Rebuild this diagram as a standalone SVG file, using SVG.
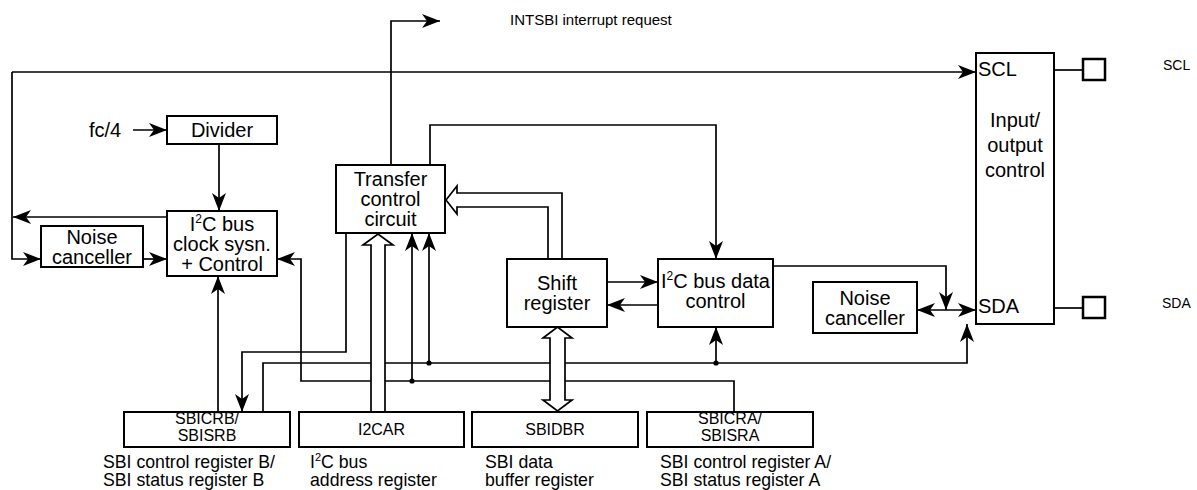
<svg xmlns="http://www.w3.org/2000/svg" width="1197" height="490" viewBox="0 0 1197 490">
<style>
.ln{fill:none;stroke:#000;stroke-width:1.7}
.ar{marker-end:url(#ah)}
.hol{fill:#fff;stroke:#000;stroke-width:1.7;stroke-linejoin:miter}
.bx{fill:#fff;stroke:#000;stroke-width:2}
.pad{fill:#fff;stroke:#000;stroke-width:2.5}
.t{font-family:"Liberation Sans",Arial,sans-serif;font-size:20px;fill:#000;text-anchor:middle}
.tl{font-family:"Liberation Sans",Arial,sans-serif;font-size:20px;fill:#000}
.rb{font-family:"Liberation Sans",Arial,sans-serif;font-size:16px;fill:#000;text-anchor:middle}
.cap{font-family:"Liberation Sans",Arial,sans-serif;font-size:17.7px;fill:#000}
.sm{font-family:"Liberation Sans",Arial,sans-serif;font-size:14px;fill:#000}
.dot{fill:#000}
</style>
<defs>
<marker id="ah" markerUnits="userSpaceOnUse" markerWidth="19" markerHeight="15" refX="18" refY="7" orient="auto-start-reverse">
<path d="M0,0 L18,7 L0,14 L5,7 z" fill="#000"/>
</marker>
</defs>
<rect width="1197" height="490" fill="#fff"/>
<g id="connectors">
<path class="ln ar" d="M133,130 H167"/>
<path class="ln ar" d="M219,144 V211"/>
<path class="ln ar" d="M167,217 H13"/>
<path class="ln ar" d="M12,72 V259 H41"/>
<path class="ln ar" d="M12,72 H976"/>
<path class="ln ar" d="M143,259 H167"/>
<path class="ln ar" d="M734,412 V381 H301 V259 H277"/>
<path class="ln ar" d="M218,412 V276"/>
<path class="ln ar" d="M346,233 V352 H242 V412"/>
<path class="ln ar" d="M263,412 V363 H967 V324"/>
<path class="ln ar" d="M429,363 V233"/>
<path class="ln ar" d="M412,381 V233"/>
<path class="ln ar" d="M716,363 V327"/>
<path class="ln ar" d="M391,165 V21 H440"/>
<path class="ln ar" d="M430,165 V125 H716 V259"/>
<path class="ln ar" d="M607,282 H658"/>
<path class="ln ar" d="M658,305 H607"/>
<path class="ln ar" d="M773,266 H946 V310"/>
<path class="ln ar" d="M917,310 H976" marker-start="url(#ah)"/>
<path class="ln" d="M1054,70 H1083"/>
<path class="ln" d="M1054,308 H1083"/>
<polygon class="hol" points="371,412 371,245 363,245 378,234 393,245 385,245 385,412"/>
<polygon class="hol" points="550,338 543,338 557.5,327 572,338 565,338 565,400 572,400 557.5,411 543,400 550,400"/>
<polygon class="hol" points="446,200 457,186 457,193 562,193 562,259 548,259 548,207 457,207 457,214"/>
<circle class="dot" cx="429" cy="363" r="2.6"/>
<circle class="dot" cx="412" cy="381" r="2.6"/>
<circle class="dot" cx="716" cy="363" r="2.6"/>
</g>
<g id="fc4"><text class="tl" x="89" y="137">fc/4</text></g>
<g id="intsbi"><text class="rb" style="text-anchor:start;font-size:15px" x="510" y="25">INTSBI interrupt request</text></g>
<g id="divider"><rect class="bx" x="167" y="116" width="110" height="28"/><text class="t" x="222" y="137">Divider</text></g>
<g id="clock"><rect class="bx" x="167" y="211" width="110" height="65"/>
<text class="t" x="222" y="231">I<tspan font-size="12" dy="-8">2</tspan><tspan dy="8">C bus</tspan></text>
<text class="t" x="222" y="251">clock sysn.</text>
<text class="t" x="222" y="271">+ Control</text></g>
<g id="noise-left"><rect class="bx" x="41" y="226" width="102" height="41"/>
<text class="t" x="92" y="244">Noise</text><text class="t" x="92" y="264">canceller</text></g>
<g id="transfer"><rect class="bx" x="336" y="165" width="109" height="68"/>
<text class="t" x="390.5" y="186">Transfer</text><text class="t" x="390.5" y="206">control</text><text class="t" x="390.5" y="226">circuit</text></g>
<g id="shift"><rect class="bx" x="507" y="259" width="100" height="68"/>
<text class="t" x="557" y="289.5">Shift</text><text class="t" x="557" y="309.5">register</text></g>
<g id="data-control"><rect class="bx" x="658" y="259" width="115" height="68"/>
<text class="t" x="715.5" y="288">I<tspan font-size="12" dy="-8">2</tspan><tspan dy="8">C bus data</tspan></text>
<text class="t" x="715.5" y="308">control</text></g>
<g id="noise-right"><rect class="bx" x="813" y="282" width="104" height="51"/>
<text class="t" x="865" y="304.5">Noise</text><text class="t" x="865" y="324.5">canceller</text></g>
<g id="io-control"><rect class="bx" x="976" y="53" width="78" height="271"/>
<text class="tl" x="978" y="76">SCL</text>
<text class="t" x="1015" y="127">Input/</text><text class="t" x="1015" y="152">output</text><text class="t" x="1015" y="177">control</text>
<text class="tl" x="978" y="313">SDA</text></g>
<g id="scl-pin"><rect class="pad" x="1083" y="59" width="22" height="21"/><text class="sm" x="1163" y="70">SCL</text></g>
<g id="sda-pin"><rect class="pad" x="1083" y="297" width="22" height="21"/><text class="sm" x="1162" y="308">SDA</text></g>
<g id="sbicrb"><rect class="bx" x="124" y="412" width="166" height="35"/>
<text class="rb" x="207" y="424">SBICRB/</text><text class="rb" x="207" y="441">SBISRB</text>
<text class="cap" x="103" y="468">SBI control register B/</text><text class="cap" x="103" y="486">SBI status register B</text></g>
<g id="i2car"><rect class="bx" x="299" y="412" width="165" height="35"/>
<text class="rb" x="381.5" y="435">I2CAR</text>
<text class="cap" x="310" y="468">I<tspan font-size="11" dy="-7">2</tspan><tspan dy="7">C bus</tspan></text><text class="cap" x="310" y="486">address register</text></g>
<g id="sbidbr"><rect class="bx" x="472" y="412" width="166" height="35"/>
<text class="rb" x="555" y="435">SBIDBR</text>
<text class="cap" x="485" y="468">SBI data</text><text class="cap" x="485" y="486">buffer register</text></g>
<g id="sbicra"><rect class="bx" x="647" y="412" width="166" height="35"/>
<text class="rb" x="730" y="424">SBICRA/</text><text class="rb" x="730" y="441">SBISRA</text>
<text class="cap" x="660" y="468">SBI control register A/</text><text class="cap" x="660" y="486">SBI status register A</text></g>
</svg>
